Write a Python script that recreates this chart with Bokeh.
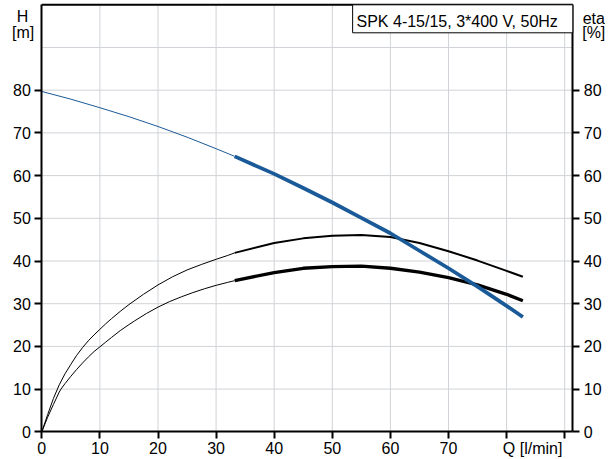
from bokeh.plotting import figure
from bokeh.models import Range1d, LinearAxis, FixedTicker, Label, BoxAnnotation
from bokeh.embed import file_html
from bokeh.resources import INLINE

# ---- data ----
# pump head H [m] vs flow Q [l/min]
q_h_thin = [0, 5, 10, 15, 20, 25, 30, 33.2]
h_thin = [79.7, 77.9, 75.9, 73.8, 71.5, 69.0, 66.3, 64.5]
q_h_thick = [33.2, 40, 45, 50, 55, 60, 65, 70, 75, 80, 82.8]
h_thick = [64.5, 60.4, 57.1, 53.7, 50.1, 46.5, 42.4, 38.3, 34.0, 29.5, 26.9]

# efficiency curves eta [%] vs Q
q_eta1_thin = [0, 1, 2, 3, 4, 5, 6, 7, 8, 9, 10, 11, 12, 13.5, 15, 17.5, 20, 22.5, 25, 27.5, 30, 32, 33.2]
eta1_thin = [0, 4.0, 7.8, 11.0, 13.6, 15.8, 17.9, 19.7, 21.3, 22.7, 24.0, 25.3, 26.5, 28.2, 29.8,
             32.2, 34.4, 36.3, 37.9, 39.2, 40.4, 41.3, 41.9]
q_eta1_thick = [33.2, 40, 45, 50, 55, 60, 65, 70, 75, 80, 82.8]
eta1_thick = [41.9, 44.2, 45.3, 45.9, 46.1, 45.6, 44.2, 42.3, 40.1, 37.7, 36.3]

q_eta2_thin = [0, 1, 2, 3, 3.3, 4, 5, 6, 7, 8, 9, 10, 11, 12, 13.5, 15, 16, 18, 20, 22, 24, 26, 28, 30, 32, 33.2]
eta2_thin = [0, 3.4, 6.4, 9.3, 10.0, 11.3, 13.0, 14.6, 16.1, 17.5, 18.8, 19.9, 21.0, 22.1, 23.7,
             25.1, 26.0, 27.7, 29.2, 30.5, 31.6, 32.6, 33.5, 34.3, 35.0, 35.4]
q_eta2_thick = [33.2, 40, 45, 50, 55, 60, 65, 70, 75, 80, 82.8]
eta2_thick = [35.4, 37.3, 38.3, 38.7, 38.8, 38.3, 37.4, 36.1, 34.4, 32.2, 30.7]

x_ticks = [0, 10, 20, 30, 40, 50, 60, 70, 80, 90]
x_labels = {80: "", 90: ""}
x_title = "Q [l/min]"
y_ticks = [0, 10, 20, 30, 40, 50, 60, 70, 80]
x_grid = [10, 20, 30, 40, 50, 60, 70, 80, 90]
y_grid = [10, 20, 30, 40, 50, 60, 70, 80, 90]
q_max = 91.4
h_max = 100
title_text = "SPK 4-15/15, 3*400 V, 50Hz"

FONT = "Liberation Sans"
BLUE = "#1a5a98"
GRID = "#d0d3d7"

W, H = 605, 457
X0, XS = 41.3, 5.81     # pixel of Q=0, pixels per unit
Y0, YS = 431.3, 4.27    # pixel of H=0, pixels per unit

p = figure(width=W, height=H, output_backend="svg", toolbar_location=None,
           x_range=Range1d(-X0 / XS, (W - X0) / XS),
           y_range=Range1d((Y0 - H) / YS, Y0 / YS),
           x_axis_type=None, y_axis_type=None, min_border=0)
p.outline_line_color = None
p.background_fill_color = "white"
p.border_fill_color = "white"

# grid
p.segment(x0=x_grid, y0=[0] * len(x_grid), x1=x_grid, y1=[h_max] * len(x_grid),
          line_color=GRID, line_width=1)
p.segment(x0=[0] * len(y_grid), y0=y_grid, x1=[q_max] * len(y_grid), y1=y_grid,
          line_color=GRID, line_width=1)

# curves
p.line(q_eta1_thin, eta1_thin, line_color="black", line_width=1)
p.line(q_eta1_thick, eta1_thick, line_color="black", line_width=2)
p.line(q_eta2_thin, eta2_thin, line_color="black", line_width=1)
p.line(q_eta2_thick, eta2_thick, line_color="black", line_width=3.3)
p.line(q_h_thin, h_thin, line_color=BLUE, line_width=1)
p.line(q_h_thick, h_thick, line_color=BLUE, line_width=3.75)

# top frame line
p.segment(x0=[0], y0=[h_max], x1=[q_max], y1=[h_max], line_color="black", line_width=2)

# axes
ax_b = LinearAxis(fixed_location=0, bounds=(0, q_max), ticker=FixedTicker(ticks=x_ticks),
                  major_label_overrides=x_labels, major_label_standoff=3)
ax_l = LinearAxis(fixed_location=0, bounds=(0, h_max), ticker=FixedTicker(ticks=y_ticks),
                  major_label_standoff=4)
ax_r = LinearAxis(fixed_location=q_max, bounds=(0, h_max), ticker=FixedTicker(ticks=y_ticks),
                  major_label_standoff=4)
p.add_layout(ax_b, "below")
p.add_layout(ax_l, "left")
p.add_layout(ax_r, "right")
for ax in (ax_b, ax_l, ax_r):
    ax.axis_line_width = 2
    ax.axis_line_color = "black"
    ax.major_tick_line_width = 2
    ax.major_tick_line_color = "black"
    ax.major_tick_out = 7
    ax.major_tick_in = 0
    ax.minor_tick_line_color = None
    ax.major_label_text_font = FONT
    ax.major_label_text_font_size = "16px"
    ax.major_label_text_color = "black"

# x-axis title, right-aligned under the last tick
p.add_layout(Label(x=89.6, y=-3.85, text=x_title, text_font=FONT, text_font_size="16px",
                   text_baseline="alphabetic", text_align="right", text_color="black"))

# legend box
box = BoxAnnotation(left=53.5, right=q_max, bottom=93.44, top=h_max,
                    fill_color="white", fill_alpha=1.0,
                    line_color="black", line_width=1, line_alpha=1.0)
p.add_layout(box)
p.add_layout(Label(x=54.17, y=96.16, text=title_text, text_font=FONT,
                   text_font_size="16px", text_baseline="alphabetic", text_align="left",
                   text_color="black"))

# axis titles
for (xx, yy, t) in [(-3.3, 97.2, "H"), (-3.2, 93.6, "[m]"), (95.0, 96.9, "eta"), (95.0, 93.6, "[%]")]:
    p.add_layout(Label(x=xx, y=yy, text=t, text_font=FONT, text_font_size="16px",
                       text_baseline="alphabetic", text_align="center", text_color="black"))

open("out.html", "w").write(file_html(p, INLINE))
